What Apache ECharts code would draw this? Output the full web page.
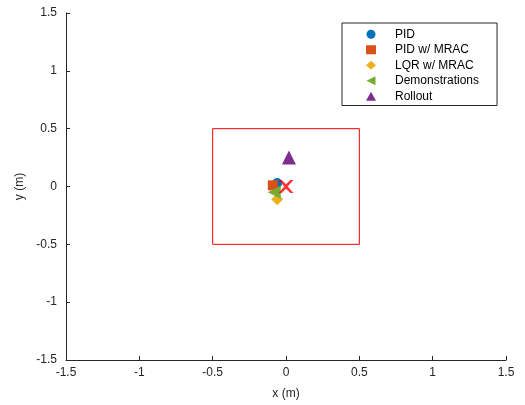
<!DOCTYPE html>
<html>
<head>
<meta charset="utf-8">
<script src="https://cdn.jsdelivr.net/npm/echarts@6/dist/echarts.min.js"></script>
<style>html,body{margin:0;padding:0;background:#fff}#c{width:525px;height:405px}</style>
</head>
<body>
<div id="c"></div>
<script>
var seriesNames = ['PID', 'PID w/ MRAC', 'LQR w/ MRAC', 'Demonstrations', 'Rollout'];
var pidPts = [[-0.06, 0.03]];
var pidMracPts = [[-0.09, 0.01]];
var lqrMracPts = [[-0.06, -0.11]];
var demoPts = [[-0.08, -0.05]];
var rolloutPts = [[0.02, 0.25]];
var targetPts = [[0, 0]];
var boxX = [-0.5, 0.5, 0.5, -0.5, -0.5];
var boxY = [-0.5, -0.5, 0.5, 0.5, -0.5];
var axisTicks = [-1.5, -1, -0.5, 0, 0.5, 1, 1.5];

var colors = ['#0072BD', '#D95319', '#EDB120', '#77AC30', '#7E2F8E'];
var leftTri = 'path://M0,5 L10,0 L10,10 Z';
var symbols = ['circle', 'rect', 'diamond', leftTri, 'triangle'];
var sizes = [10, 10, 12, 13, 14];
var datas = [pidPts, pidMracPts, lqrMracPts, demoPts, rolloutPts];

var font = 'Liberation Sans, Arial, Helvetica, sans-serif';
var axColor = '#262626';

var series = [];
var boxData = boxX.map(function (x, i) { return [x, boxY[i]]; });
series.push({
  name: 'box', type: 'line', data: boxData, symbol: 'none', silent: true,
  lineStyle: { color: '#ff0000', width: 1 }, z: 1
});
for (var i = 0; i < seriesNames.length; i++) {
  series.push({
    name: seriesNames[i], type: 'scatter', data: datas[i],
    symbol: symbols[i], symbolSize: sizes[i],
    itemStyle: { color: colors[i], opacity: 1 }, z: 2 + i
  });
}
series.push({
  name: 'target', type: 'scatter', data: targetPts,
  symbol: 'path://M0,0 L3,0 L7,4 L11,0 L14,0 L8.6,6 L14,12 L11,12 L7,8 L3,12 L0,12 L5.4,6 Z',
  symbolSize: [15, 13], itemStyle: { color: '#ff0000' }, z: 10
});

var axisCommon = {
  type: 'value', min: -1.5, max: 1.5, interval: 0.5,
  axisLine: { show: true, onZero: false, lineStyle: { color: axColor, width: 1 } },
  axisTick: { show: true, inside: true, length: 4, lineStyle: { color: axColor } },
  splitLine: { show: false },
  axisLabel: { color: axColor, fontSize: 12, fontFamily: font,
    formatter: function (v) { return String(v); } },
  nameLocation: 'middle',
  nameTextStyle: { color: axColor, fontSize: 12, fontFamily: font }
};

var option = {
  animation: false,
  grid: { left: 66, right: 19, top: 13, bottom: 45, containLabel: false },
  xAxis: Object.assign({}, axisCommon, {
    name: 'x (m)', nameGap: 28,
    axisLabel: Object.assign({}, axisCommon.axisLabel, { margin: 7 })
  }),
  yAxis: Object.assign({}, axisCommon, {
    name: 'y (m)', nameGap: 35,
    axisLabel: Object.assign({}, axisCommon.axisLabel, { margin: 9 })
  }),
  legend: {
    orient: 'vertical', left: 342, top: 23,
    data: seriesNames.map(function (n, i) {
      return { name: n, icon: symbols[i] };
    }),
    itemWidth: 10, itemHeight: 9, itemGap: 1, itemTextGap: 5,
    padding: [4, 18, 2, 24],
    borderColor: axColor, borderWidth: 1, backgroundColor: '#fff',
    textStyle: { color: '#000', fontSize: 12, fontFamily: font, lineHeight: 14.5, padding: [0, 0, 0, 14] },
    selectedMode: false
  },
  series: series
};
var chart = echarts.init(document.getElementById('c'), null, { renderer: 'canvas' });
chart.setOption(option);
</script>
</body>
</html>
